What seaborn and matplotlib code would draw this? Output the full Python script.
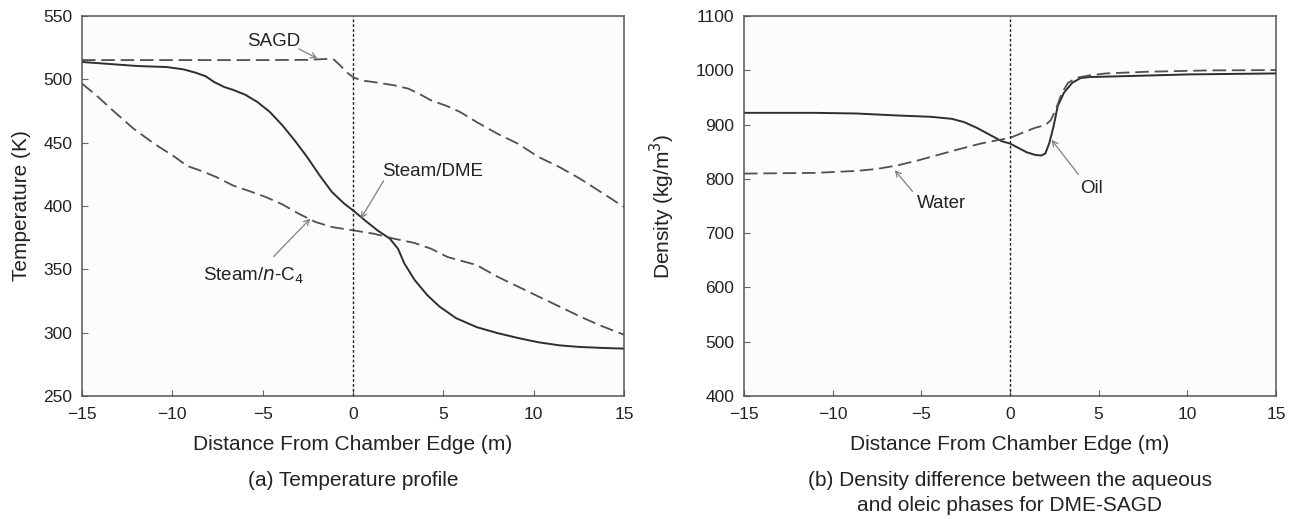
import numpy as np
import pandas as pd
import matplotlib
matplotlib.use("Agg")
import matplotlib.pyplot as plt
import seaborn as sns

# ---- Data: panel (a) temperature profiles ----
sagd_x = [-15, -10, -5, -2.5, -1.28, -1.05, -0.71, -0.37, 0, 0.43, 1.12, 2.27, 3.07, 3.64, 4.32,
          5.24, 5.93, 6.84, 7.99, 9.13, 10.27, 11.42, 12.56, 13.71, 15]
sagd_y = [515.2, 515.2, 515.2, 515.4, 516.2, 515.5, 511, 505.8, 501.8, 499.2, 497.9, 495.3, 492.6,
          488.7, 483.4, 478.7, 474.2, 466.3, 457.1, 449.2, 438.7, 430.8, 421.6, 411.1, 399.2]

dme_x = [-15, -11.92, -10.32, -9.40, -8.72, -8.15, -7.69, -7.12, -6.66, -5.97, -5.29, -4.60, -3.91,
         -3.23, -2.54, -1.85, -1.17, -0.48, 0, 0.66, 1.35, 2.04, 2.49, 2.84, 3.41, 4.10, 4.78, 5.70,
         6.84, 7.99, 9.13, 10.27, 11.42, 12.56, 13.71, 15]
dme_y = [513.7, 510.5, 509.7, 507.9, 505.3, 502.4, 497.9, 493.9, 491.8, 487.9, 482.1, 474.2, 463.7,
         451.8, 438.7, 424.2, 411.1, 401.8, 396.6, 388.7, 380.8, 374.2, 366.3, 354.7, 341.6, 329.8,
         320.7, 311.5, 304.4, 299.7, 295.8, 292.4, 290.0, 288.7, 288.0, 287.4]

c4_x = [-15, -14.21, -13.30, -12.15, -11.01, -9.86, -9.18, -8.49, -7.57, -6.66, -5.74, -4.83, -3.91,
        -3.0, -2.08, -1.17, 0, 1.12, 2.27, 3.41, 4.32, 5.24, 6.84, 7.99, 9.13, 10.27, 11.42, 12.56,
        13.71, 15]
c4_y = [496.6, 487.4, 475.5, 461.1, 449.2, 438.7, 431.6, 428.2, 422.9, 416.3, 411.8, 407.1, 401.3,
        393.9, 387.4, 383.4, 380.8, 378.2, 374.2, 370.8, 366.3, 359.7, 353.4, 344.2, 336.4, 328.5,
        320.7, 312.8, 305.5, 298.4]

# ---- Data: panel (b) phase densities ----
oil_x = [-15, -11.0, -8.67, -6.32, -4.45, -3.28, -2.58, -1.87, -1.17, -0.47, 0, 0.47, 0.94, 1.41,
         1.76, 1.99, 2.22, 2.46, 2.69, 3.04, 3.51, 3.98, 4.45, 6.56, 10.07, 15]
oil_y = [921.6, 921.6, 920.4, 916.7, 914.3, 910.6, 904.4, 894, 881.7, 869.4, 865, 857, 849, 844.2,
         843, 846.6, 866.3, 897, 934, 958.5, 977, 985.6, 987.5, 989.3, 992.4, 994.2]

water_x = [-15, -11.0, -8.67, -7.49, -6.32, -5.15, -3.98, -2.81, -1.64, -0.70, 0, 0.70, 1.41, 1.99,
           2.30, 2.58, 2.93, 3.28, 3.75, 4.45, 5.39, 7.73, 11.24, 15]
water_y = [809.7, 811, 814.6, 818.3, 825, 834.3, 844.8, 855.2, 865.1, 871.2, 875.5, 884.8, 894, 899,
           908, 927.8, 958.5, 977, 986.2, 990.5, 994.2, 997.3, 999.8, 1000.4]

xticks = [-15, -10, -5, 0, 5, 10, 15]
xtick_labels = ["\u221215", "\u221210", "\u22125", "0", "5", "10", "15"]
temp_ticks = [250, 300, 350, 400, 450, 500, 550]
dens_ticks = [400, 500, 600, 700, 800, 900, 1000, 1100]

sns.set_style("white")
plt.rcParams['font.family'] = ['Liberation Sans', 'DejaVu Sans']

fig = plt.figure(figsize=(12.99, 5.19), dpi=100)
ax1 = fig.add_axes([82/1299, 1-396/519, 542/1299, 380/519])
ax2 = fig.add_axes([744/1299, 1-396/519, 532/1299, 380/519])

line_col = "#2e2e2e"
dash_col = "#505050"
dash = (7.5, 3.2)

def draw(ax, x, y, style):
    df = pd.DataFrame({"x": x, "y": y})
    if style == "solid":
        sns.lineplot(data=df, x="x", y="y", ax=ax, color=line_col, lw=1.4, sort=False)
    else:
        sns.lineplot(data=df, x="x", y="y", ax=ax, color=dash_col, lw=1.3, sort=False)
        ax.lines[-1].set_dashes(dash)
    ax.lines[-1].set_solid_joinstyle("round")

draw(ax1, sagd_x, sagd_y, "dash")
draw(ax1, dme_x, dme_y, "solid")
draw(ax1, c4_x, c4_y, "dash")
draw(ax2, oil_x, oil_y, "solid")
draw(ax2, water_x, water_y, "dash")

tfs = 12.5   # tick labels
lfs = 15     # axis labels
afs = 13.5   # annotations
cfs = 15     # captions
tc = "#222222"
arrow = dict(arrowstyle="->", color="#808080", lw=0.9, shrinkA=0, shrinkB=0)

for ax, yl, yt, ylab in [(ax1, (250, 550), temp_ticks, "Temperature (K)"),
                          (ax2, (400, 1100), dens_ticks, "Density (kg/m$^3$)")]:
    ax.set_facecolor("#fcfcfc")
    ax.axvline(0, color="#222222", lw=1.0, ls=(0, (2, 1.5)))
    ax.set_xlim(-15, 15)
    ax.set_ylim(*yl)
    ax.set_xticks(xticks)
    ax.set_xticklabels(xtick_labels)
    ax.set_yticks(yt)
    ax.tick_params(axis="both", direction="in", length=4, width=0.8, color="#666666",
                   labelsize=tfs, labelcolor=tc)
    ax.tick_params(axis="x", pad=8)
    ax.tick_params(axis="y", pad=7)
    ax.tick_params(top=False, right=False, bottom=True, left=True)
    for s in ax.spines.values():
        s.set_color("#555555")
        s.set_linewidth(1.1)
    ax.set_xlabel("Distance From Chamber Edge (m)", fontsize=lfs, color=tc)
    ax.set_ylabel(ylab, fontsize=lfs, color=tc)
    ax.xaxis.set_label_coords(0.5, -0.103)

ax1.yaxis.set_label_coords(-0.094, 0.5)
ax2.yaxis.set_label_coords(-0.126, 0.5)

# Annotations panel (a)
ax1.text(-4.4, 529.5, "SAGD", fontsize=afs, color=tc, ha="center", va="center")
ax1.annotate("", xy=(-1.97, 516.5), xytext=(-3.0, 524), arrowprops=arrow)
ax1.text(4.4, 427, "Steam/DME", fontsize=afs, color=tc, ha="center", va="center")
ax1.annotate("", xy=(0.43, 390), xytext=(1.7, 420), arrowprops=arrow)
ax1.text(-5.5, 345, "Steam/$n$-C$_4$", fontsize=afs, color=tc, ha="center", va="center")
ax1.annotate("", xy=(-2.36, 390), xytext=(-4.4, 360), arrowprops=arrow)

# Annotations panel (b)
ax2.text(-3.86, 754, "Water", fontsize=afs, color=tc, ha="center", va="center")
ax2.annotate("", xy=(-6.5, 816), xytext=(-5.5, 777), arrowprops=arrow)
ax2.text(4.57, 783, "Oil", fontsize=afs, color=tc, ha="center", va="center")
ax2.annotate("", xy=(2.34, 872), xytext=(3.86, 808), arrowprops=arrow)

# Captions
fig.text((82 + 624) / 2 / 1299, 1 - 480/519, "(a) Temperature profile", fontsize=cfs,
         color=tc, ha="center", va="center")
fig.text((744 + 1276) / 2 / 1299, 1 - 493/519,
         "(b) Density difference between the aqueous\nand oleic phases for DME-SAGD",
         fontsize=cfs, color=tc, ha="center", va="center", linespacing=1.36)

fig.savefig("out.png", dpi=100)
